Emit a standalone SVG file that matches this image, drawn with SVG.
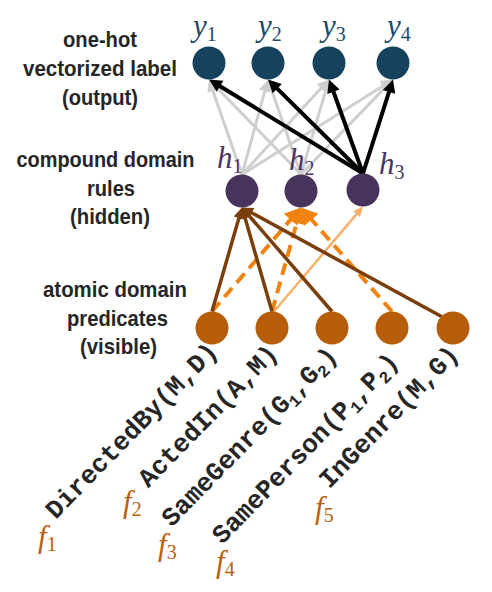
<svg xmlns="http://www.w3.org/2000/svg" width="492" height="592" viewBox="0 0 492 592">
<style>
.lbl{font-family:"Liberation Sans",Arial,sans-serif;font-weight:bold;font-size:22.5px;fill:#262626;text-anchor:middle}
.mono{font-family:"Liberation Mono","Courier New",monospace;font-weight:bold;font-size:26px;fill:#262626}
.monosub{font-size:17px}
.math{font-family:"Liberation Serif","Times New Roman",serif;font-style:italic;font-size:31px}
.msub{font-style:normal;font-size:20px}
.ycol{fill:#1b4a6b}
.hcol{fill:#4b3461}
.fcol{fill:#b8600c}
.ynode{fill:#16425e}
.hnode{fill:#47335b}
.fnode{fill:#b55d08}
.gray{stroke:#cfcfcf;stroke-width:3;fill:none;marker-end:url(#mGray)}
.black{stroke:#000;stroke-width:4;fill:none;marker-end:url(#mBlack)}
.brown{stroke:#7a3e0a;stroke-width:3.5;fill:none;marker-end:url(#mBrown)}
.dash{stroke:#f0820f;stroke-width:4;fill:none;stroke-dasharray:12 7;marker-end:url(#mOrange)}
.light{stroke:#fbb06b;stroke-width:2.5;fill:none;marker-end:url(#mLight)}
</style>
<defs>
<marker id="mGray" markerUnits="userSpaceOnUse" markerWidth="14" markerHeight="14" refX="1" refY="6" orient="auto" overflow="visible"><path d="M0,0 L12,6 L0,12 z" fill="#cfcfcf"/></marker>
<marker id="mBlack" markerUnits="userSpaceOnUse" markerWidth="15" markerHeight="15" refX="1" refY="6.5" orient="auto" overflow="visible"><path d="M0,0 L13,6.5 L0,13 z" fill="#000"/></marker>
<marker id="mBrown" markerUnits="userSpaceOnUse" markerWidth="13" markerHeight="13" refX="1" refY="5.5" orient="auto" overflow="visible"><path d="M0,0 L11,5.5 L0,11 z" fill="#7a3e0a"/></marker>
<marker id="mOrange" markerUnits="userSpaceOnUse" markerWidth="20" markerHeight="20" refX="1" refY="9" orient="auto" overflow="visible"><path d="M0,0 L16,9 L0,18 z" fill="#f0820f"/></marker>
<marker id="mLight" markerUnits="userSpaceOnUse" markerWidth="12" markerHeight="12" refX="1" refY="4.5" orient="auto" overflow="visible"><path d="M0,0 L10,4.5 L0,9 z" fill="#fbb06b"/></marker>
</defs>

<g id="layer-labels">
<text class="lbl" x="100" y="47" textLength="74" lengthAdjust="spacingAndGlyphs">one-hot</text>
<text class="lbl" x="100" y="76" textLength="154" lengthAdjust="spacingAndGlyphs">vectorized label</text>
<text class="lbl" x="100" y="105" textLength="76" lengthAdjust="spacingAndGlyphs">(output)</text>
<text class="lbl" x="105.5" y="167" textLength="178" lengthAdjust="spacingAndGlyphs">compound domain</text>
<text class="lbl" x="111" y="196" textLength="48" lengthAdjust="spacingAndGlyphs">rules</text>
<text class="lbl" x="110" y="224" textLength="80" lengthAdjust="spacingAndGlyphs">(hidden)</text>
<text class="lbl" x="115" y="297" textLength="144" lengthAdjust="spacingAndGlyphs">atomic domain</text>
<text class="lbl" x="117.5" y="326" textLength="101" lengthAdjust="spacingAndGlyphs">predicates</text>
<text class="lbl" x="118.5" y="354" textLength="77" lengthAdjust="spacingAndGlyphs">(visible)</text>
</g>

<g id="connectors">
<line class="gray" x1="242" y1="174.5" x2="212.6" y2="89.9"/>
<line class="gray" x1="242" y1="174.5" x2="265.1" y2="90.1"/>
<line class="gray" x1="242" y1="174.5" x2="321.6" y2="87.6"/>
<line class="gray" x1="242" y1="174.5" x2="383.7" y2="85.4"/>
<line class="gray" x1="301" y1="174.5" x2="216.7" y2="87.4"/>
<line class="gray" x1="301" y1="174.5" x2="271.6" y2="89.9"/>
<line class="gray" x1="301" y1="174.5" x2="325.9" y2="90.05"/>
<line class="gray" x1="301" y1="174.5" x2="385.3" y2="87.4"/>
<line class="black" x1="363" y1="173.5" x2="219.2" y2="85.75"/>
<line class="black" x1="363" y1="173.5" x2="276.5" y2="87.9"/>
<line class="black" x1="363" y1="173.5" x2="333.1" y2="90.8"/>
<line class="black" x1="363" y1="173.5" x2="389.35" y2="90.9"/>
<line class="dash" x1="212" y1="311.5" x2="291.25" y2="218.9"/>
<line class="dash" x1="272" y1="311.5" x2="297" y2="221.95"/>
<line class="dash" x1="392" y1="311.5" x2="310.9" y2="218.8"/>
<line class="light" x1="274" y1="311.5" x2="357.2" y2="213.4"/>
<line class="brown" x1="212" y1="311.5" x2="239.2" y2="217.1"/>
<line class="brown" x1="272" y1="311.5" x2="244.8" y2="217.1"/>
<line class="brown" x1="332" y1="311.5" x2="248.5" y2="215.1"/>
<line class="brown" x1="441.5" y1="316.5" x2="250.8" y2="212.3"/>
</g>

<g id="y1"><circle class="ynode" cx="209" cy="63" r="16.5"/><text class="math ycol" x="193" y="36">y<tspan class="msub" dy="5">1</tspan></text></g>
<g id="y2"><circle class="ynode" cx="268" cy="63" r="16.5"/><text class="math ycol" x="258" y="36">y<tspan class="msub" dy="5">2</tspan></text></g>
<g id="y3"><circle class="ynode" cx="329" cy="63" r="16.5"/><text class="math ycol" x="322" y="36">y<tspan class="msub" dy="5">3</tspan></text></g>
<g id="y4"><circle class="ynode" cx="393" cy="63" r="16.5"/><text class="math ycol" x="387" y="36">y<tspan class="msub" dy="5">4</tspan></text></g>

<g id="h1"><circle class="hnode" cx="242" cy="191" r="16.5"/><text class="math hcol" x="217" y="168">h<tspan class="msub" dy="5">1</tspan></text></g>
<g id="h2"><circle class="hnode" cx="301" cy="191" r="16.5"/><text class="math hcol" x="289" y="170">h<tspan class="msub" dy="5">2</tspan></text></g>
<g id="h3"><circle class="hnode" cx="363" cy="190" r="16.5"/><text class="math hcol" x="379" y="174">h<tspan class="msub" dy="5">3</tspan></text></g>

<g id="f1"><circle class="fnode" cx="212" cy="328" r="16.5"/>
<text class="mono" transform="translate(55.7,520) rotate(-45.7)">DirectedBy(M,D)</text>
<text class="math fcol" x="38" y="547">f<tspan class="msub" dy="4">1</tspan></text></g>
<g id="f2"><circle class="fnode" cx="272" cy="328" r="16.5"/>
<text class="mono" transform="translate(148.3,488.5) rotate(-45.7)">ActedIn(A,M)</text>
<text class="math fcol" x="123" y="512">f<tspan class="msub" dy="4">2</tspan></text></g>
<g id="f3"><circle class="fnode" cx="332" cy="328" r="16.5"/>
<text class="mono" transform="translate(171.7,527.7) rotate(-45.7)">SameGenre(G<tspan class="monosub" dy="5">1</tspan><tspan dy="-5">,G</tspan><tspan class="monosub" dy="5">2</tspan><tspan dy="-5">)</tspan></text>
<text class="math fcol" x="158" y="555">f<tspan class="msub" dy="4">3</tspan></text></g>
<g id="f4"><circle class="fnode" cx="392" cy="328" r="16.5"/>
<text class="mono" transform="translate(222.3,545) rotate(-45.7)">SamePerson(P<tspan class="monosub" dy="5">1</tspan><tspan dy="-5">,P</tspan><tspan class="monosub" dy="5">2</tspan><tspan dy="-5">)</tspan></text>
<text class="math fcol" x="216" y="572">f<tspan class="msub" dy="4">4</tspan></text></g>
<g id="f5"><circle class="fnode" cx="453" cy="328" r="16.5"/>
<text class="mono" transform="translate(329.3,489.5) rotate(-45.7)">InGenre(M,G)</text>
<text class="math fcol" x="315" y="518">f<tspan class="msub" dy="4">5</tspan></text></g>
</svg>
